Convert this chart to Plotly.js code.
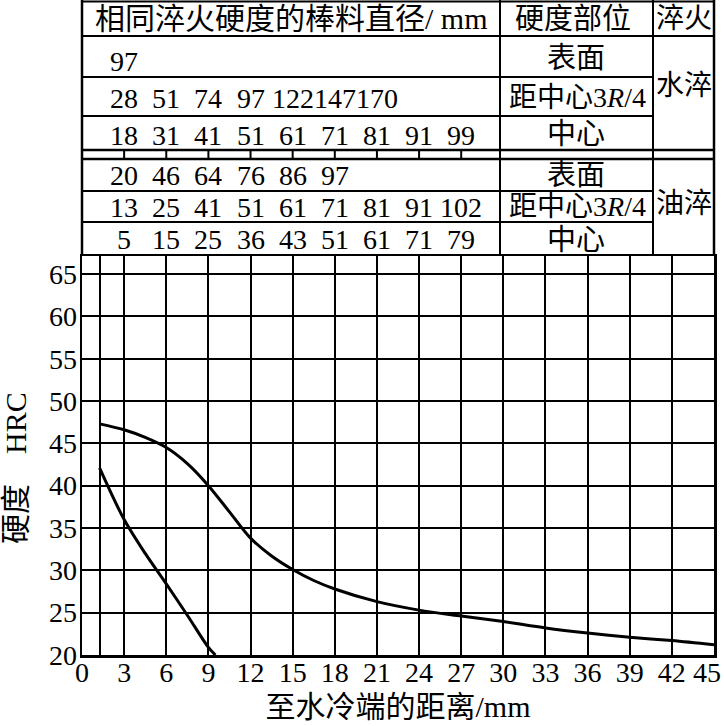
<!DOCTYPE html>
<html>
<head>
<meta charset="utf-8">
<script src="https://cdn.plot.ly/plotly-3.0.1.min.js"></script>
<style>html,body{margin:0;padding:0;background:#fff;}#chart{width:724px;height:726px;}</style>
</head>
<body>
<div id="chart"></div>
<script>
// ---- data ----
const topCurveX = [1.25, 3, 4.5, 6, 7.5, 9, 10.5, 12, 13.5, 15, 16.5, 18, 21, 24, 27, 30, 33, 36, 39, 42, 45];
const topCurveY = [47.3, 46.6, 45.7, 44.5, 42.6, 40.0, 36.9, 33.8, 31.7, 30.1, 28.8, 27.8, 26.3, 25.3, 24.6, 23.95, 23.2, 22.6, 22.1, 21.7, 21.2];
const lowCurveX = [1.25, 3, 4.5, 6, 7.5, 9, 9.5];
const lowCurveY = [42.1, 36.0, 32.0, 28.4, 24.7, 20.9, 20.0];

const xTickVals = [0, 1.25, 3, 6, 9, 12, 15, 18, 21, 24, 27, 30, 33, 36, 39, 42, 45];
const xTickText = ["0", "", "3", "6", "9", "12", "15", "18", "21", "24", "27", "30", "33", "36", "39", "42", "45"];
const yTickVals = [20, 25, 30, 35, 40, 45, 50, 55, 60, 65];

// table: bar diameters with the same hardness, placed at Jominy distances
const jominyPos = [3, 6, 9, 12, 15, 18, 21, 24, 27];
const waterSurface = [97];
const water34 = [28, 51, 74, 97, 122, 147, 170];
const waterCenter = [18, 31, 41, 51, 61, 71, 81, 91, 99];
const oilSurface = [20, 46, 64, 76, 86, 97];
const oil34 = [13, 25, 41, 51, 61, 71, 81, 91, 102];
const oilCenter = [5, 15, 25, 36, 43, 51, 61, 71, 79];

const headerDiam = "相同淬火硬度的棒料直径/ mm";
const headerPos = "硬度部位";
const headerQ = "淬火";
const posLabels = ["表面", "距中心3<i>R</i>/4", "中心"];
const quenchLabels = ["水淬", "油淬"];
const xTitle = "至水冷端的距离/mm";
const yTitle = "硬度\u3000HRC";

// ---- geometry helpers (pixels -> paper) ----
const W = 724, H = 726, mL = 82, mR = 10, mB = 71, mT = 0;
const plotH = H - mB - mT;
const py = p => (H - mB - p) / plotH;
const pxp = p => (p - mL) / (W - mL - mR);
const plotTopPx = 256;

const FONT = "'Liberation Serif', 'Times New Roman', 'Noto Sans CJK SC', serif";
const black = "#000";

const shapes = [];
function hline(yPx, x0Px, x1Px, w) {
  shapes.push({type: "line", xref: "paper", yref: "paper", x0: pxp(x0Px), x1: pxp(x1Px), y0: py(yPx), y1: py(yPx), line: {color: black, width: w || 2}});
}
function vline(xPx, y0Px, y1Px, w) {
  shapes.push({type: "line", xref: "paper", yref: "paper", x0: pxp(xPx), x1: pxp(xPx), y0: py(y0Px), y1: py(y1Px), line: {color: black, width: w || 2}});
}
const L = 82, R = 714, C1 = 500, C2 = 653;
hline(1.5, L, R);
hline(36, L, R);
hline(77, L, C2);
hline(116, L, C2);
hline(150, L, R, 2.5);
hline(159, L, R, 2.5);
hline(191, L, C2);
hline(222, L, C2);
vline(L, 0, plotTopPx, 2.5);
vline(C1, 0, plotTopPx);
vline(C2, 0, plotTopPx);
vline(R, 0, plotTopPx, 2.5);
jominyPos.forEach(v => {
  shapes.push({type: "line", xref: "x", yref: "paper", x0: v, x1: v, y0: py(150), y1: py(159), line: {color: black, width: 2}});
});

const annotations = [];
function txt(text, xVal, xref, yPx, size) {
  annotations.push({text: text, x: xVal, xref: xref, y: py(yPx), yref: "paper",
    showarrow: false, xanchor: "center", yanchor: "middle",
    font: {family: FONT, size: size, color: black}});
}
function numRow(vals, yPx) {
  vals.forEach((v, i) => txt(String(v), jominyPos[i], "x", yPx, 28));
}
txt(headerDiam, pxp(291), "paper", 19, 30);
txt(headerPos, pxp(573), "paper", 19, 29);
txt(headerQ, pxp(684), "paper", 19, 28);
numRow(waterSurface, 61);
numRow(water34, 99);
numRow(waterCenter, 136);
numRow(oilSurface, 176);
numRow(oil34, 207);
numRow(oilCenter, 239);
txt(posLabels[0], pxp(576), "paper", 58, 29);
txt(posLabels[1], pxp(577), "paper", 97, 28);
txt(posLabels[2], pxp(576), "paper", 134, 29);
txt(posLabels[0], pxp(576), "paper", 175, 29);
txt(posLabels[1], pxp(577), "paper", 206, 28);
txt(posLabels[2], pxp(576), "paper", 240, 29);
txt(quenchLabels[0], pxp(684), "paper", 86, 28);
txt(quenchLabels[1], pxp(684), "paper", 203, 28);

// last x tick label, right-aligned so it stays inside the picture
const lastIdx = xTickVals.length - 1;
annotations.push({text: xTickText[lastIdx], x: xTickVals[lastIdx], xref: "x", y: py(672), yref: "paper",
  showarrow: false, xanchor: "right", yanchor: "middle", xshift: 9,
  font: {family: FONT, size: 28, color: black}});
// y axis title
annotations.push({text: yTitle, x: pxp(16), xref: "paper", y: py(468), yref: "paper",
  showarrow: false, xanchor: "center", yanchor: "middle", textangle: -90,
  font: {family: FONT, size: 30, color: black}});

const traces = [
  {x: topCurveX, y: topCurveY, type: "scatter", mode: "lines", line: {color: black, width: 3, shape: "spline", smoothing: 0.9}, hoverinfo: "skip"},
  {x: lowCurveX, y: lowCurveY, type: "scatter", mode: "lines", line: {color: black, width: 3, shape: "spline", smoothing: 0.9}, hoverinfo: "skip"}
];

const layout = {
  width: W, height: H,
  margin: {l: mL, r: mR, t: mT, b: mB, pad: 0},
  paper_bgcolor: "#fff", plot_bgcolor: "#fff",
  showlegend: false,
  xaxis: {
    range: [0, 45], tickmode: "array", tickvals: xTickVals,
    ticktext: xTickText.map((t, i) => i === lastIdx ? "" : t),
    showgrid: true, gridcolor: black, gridwidth: 2,
    showline: true, linecolor: black, linewidth: 2.5, mirror: true,
    zeroline: false, ticks: "", ticklabelstandoff: -9,
    tickfont: {family: FONT, size: 28, color: black},
    title: {text: xTitle, font: {family: FONT, size: 30, color: black}, standoff: 9}
  },
  yaxis: {
    domain: [0, py(plotTopPx)],
    range: [20, 67.13], tickmode: "array", tickvals: yTickVals,
    showgrid: true, gridcolor: black, gridwidth: 2,
    showline: true, linecolor: black, linewidth: 2.5, mirror: true,
    zeroline: false, ticks: "", ticklabelstandoff: -3,
    tickfont: {family: FONT, size: 28, color: black}
  },
  shapes: shapes,
  annotations: annotations
};

Plotly.newPlot("chart", traces, layout, {staticPlot: true, displayModeBar: false});
</script>
</body>
</html>
